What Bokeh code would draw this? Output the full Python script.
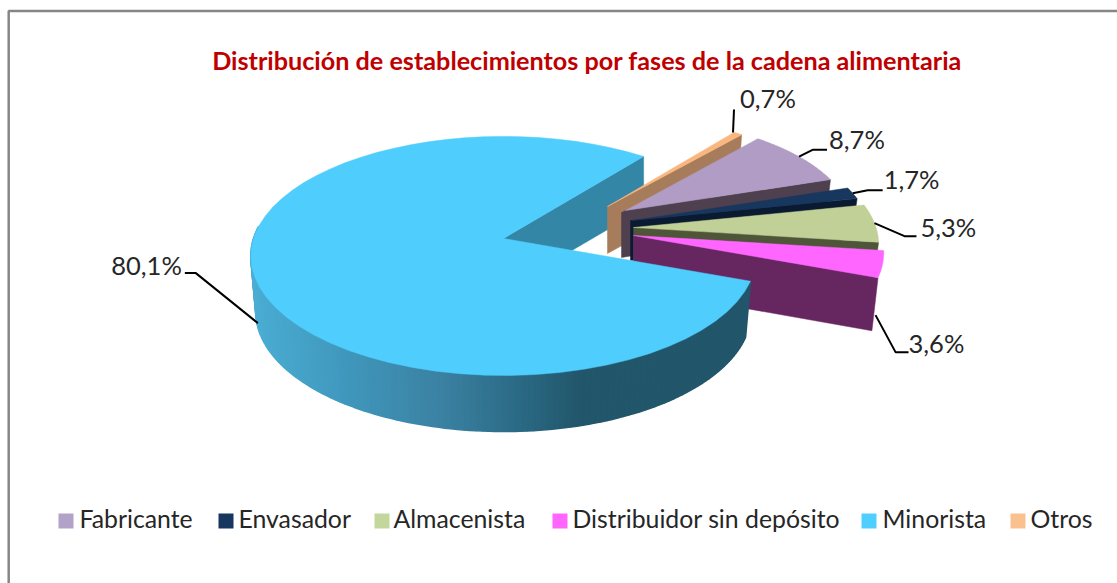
import numpy as np
from bokeh.plotting import figure
from bokeh.models import Range1d
from bokeh.core.properties import value
from bokeh.embed import file_html
from bokeh.resources import INLINE

categories = ["Fabricante", "Envasador", "Almacenista", "Distribuidor sin depósito", "Minorista", "Otros"]
shares = [8.7, 1.7, 5.3, 3.6, 80.1, 0.7]
pct_labels = ["8,7%", "1,7%", "5,3%", "3,6%", "80,1%", "0,7%"]
title_text = "Distribución de establecimientos por fases de la cadena alimentaria"

top_colors = ["#B09CC4", "#17375E", "#C0D096", "#FF66FF", "#4FCDFC", "#FAB67F"]
wall_colors = ["#4F4050", "#0A1A30", "#4F5539", "#662761", "#3386A6", "#A67C5A"]
legend_colors = ["#B3A2C7", "#17375E", "#C3D69B", "#FF66FF", "#4FCFFF", "#FAC090"]

# layout: apex of each (exploded) slice, radius scale, wall height, left lip
apex = [(625, 210), (632, 220), (633, 227), (633, 235), (503, 238), (607, 206)]
scale = [0.90, 0.945, 0.97, 0.99, 1.0, 0.905]
wall_h = [45, 40, 47, 53, 56, 47]
lip = [(-4, 2), (-2, 0), (0, 0), (0, 0), (0, 0), (0, 0)]
START_DEG = -49.2
RX, RY, K = 250.0, 117.0, 0.146

# leader elbow offsets from the rim anchor, and text position (window pixels offsets)
leader = [[(14, -7), (28, -7)], [(15, -3), (30, -3)], [(30, 13), (42, 13)],
          [(20, 37), (33, 37)], [(-62, -50), (-73, -50)], [(1, -23), (1, -23)]]
label_off = [(30, -18), (31, -14), (46, 4), (33, 28), (-76, -58), (7, -34)]
label_anchor_shift = [(0, 0), (0, 0), (0, 0), (-7, 51), (5, 52), (-5, -1)]

legend_sw_x = [58, 218, 374, 552, 861, 1010]
legend_tx_x = [79, 238, 393, 572, 882, 1030]

# ---- geometry from shares
ang = [START_DEG]
for s in shares:
    ang.append(ang[-1] + s * 3.6)


def rim(i, deg, down=0.0, shrink=1.0):
    t = np.radians(deg)
    u, v = np.cos(t), np.sin(t)
    d = 1 - K * v
    return (apex[i][0] + shrink * scale[i] * RX * u / d,
            apex[i][1] + scale[i] * RY * v / d + down)


def arc(i, a0, a1, n=60):
    xs, ys = rim(i, np.linspace(a0, a1, n))
    return list(xs), list(ys)


p = figure(width=1117, height=583, x_range=Range1d(0, 1117), y_range=Range1d(583, 0),
           output_backend="svg", toolbar_location=None, min_border=0)
p.axis.visible = False
p.grid.visible = False
p.outline_line_color = None
p.background_fill_color = "white"
p.border_fill_color = "white"

# chart frame
p.line([8.2, 8.2, 1117], [583, 10.5, 10.5], line_color="#868686", line_width=2.5)


def wall(i):
    ax, ay = apex[i]
    h = wall_h[i]
    ex, ey = rim(i, ang[i + 1])
    bx, by = rim(i, ang[i + 1], down=h, shrink=0.975)
    lx, ly = lip[i]
    xs = [ax, ex, bx, ax + lx, ax + lx]
    ys = [ay, ey, by, ay + h + ly, ay + ly]
    p.patch(xs, ys, fill_color=wall_colors[i], line_color=wall_colors[i], line_width=0.5)


def top(i):
    xs, ys = arc(i, ang[i], ang[i + 1])
    p.patch([apex[i][0]] + xs, [apex[i][1]] + ys, fill_color=top_colors[i],
            line_color=top_colors[i], line_width=0.5)


# Minorista cut wall sits behind the exploded slices
MI = 4
ex, ey = rim(MI, ang[MI + 1])
bx, by = rim(MI, ang[MI + 1], down=52)
p.patch([apex[MI][0], ex, bx, apex[MI][0]], [apex[MI][1], ey, by, apex[MI][1] + 52],
        fill_color=wall_colors[MI], line_color=wall_colors[MI], line_width=0.5)

# back to front: Otros, Fabricante, Envasador, Almacenista, Distribuidor
for i in [5, 0, 1, 2, 3]:
    wall(i)
    top(i)

# Minorista: shaded rim, top face
stop_x = [258, 350, 440, 520, 580, 745]
stop_rgb = np.array([[0x4B, 0xAD, 0xD3], [0x40, 0x97, 0xBC], [0x3B, 0x82, 0xA3],
                     [0x2B, 0x6A, 0x84], [0x22, 0x56, 0x6A], [0x22, 0x56, 0x6A]], float)
edges = np.linspace(ang[MI], 186, 131)
qx, qy, qc = [], [], []
for a0, a1 in zip(edges[:-1], edges[1:]):
    x0, y0 = rim(MI, a0)
    x1, y1 = rim(MI, a1)
    x2, y2 = rim(MI, a1, down=56, shrink=0.98)
    x3, y3 = rim(MI, a0, down=56, shrink=0.98)
    qx.append([x0, x1, x2, x3])
    qy.append([y0, y1, y2, y3])
    cx = (x2 + x3) / 2
    rgb = [int(np.interp(cx, stop_x, stop_rgb[:, c])) for c in range(3)]
    qc.append("#%02X%02X%02X" % tuple(rgb))
p.patches(qx, qy, fill_color=qc, line_color=qc, line_width=1.6)
top(MI)

# leaders and labels
FONT = value("Lato")
for i in range(6):
    mid = (ang[i] + ang[i + 1]) / 2
    sx, sy = label_anchor_shift[i]
    x0, y0 = rim(i, mid)
    x0 += sx
    y0 += sy
    xs = [x0] + [x0 + d[0] for d in leader[i]]
    ys = [y0] + [y0 + d[1] for d in leader[i]]
    p.line(xs, ys, line_color="black", line_width=2)
    lx, ly = label_off[i]
    p.text([x0 + lx], [y0 + ly], text=[pct_labels[i]], text_font=FONT, text_font_size="25.5px",
           text_color="#262626", text_baseline="middle",
           text_align="right" if i == MI else "left")

# title
p.text([586.5], [59], text=[title_text], text_font=FONT, text_font_size="25.2px",
       text_font_style="bold", text_color="#C00000", text_align="center", text_baseline="middle")

# legend
p.quad(left=legend_sw_x, right=[x + 15 for x in legend_sw_x], top=[513] * 6, bottom=[528] * 6,
       fill_color=legend_colors, line_color=None)
p.text(legend_tx_x, [518] * 6, text=categories, text_font=FONT, text_font_size="24.8px",
       text_color="#262626", text_baseline="middle")

open("out.html", "w").write(file_html(p, INLINE))
